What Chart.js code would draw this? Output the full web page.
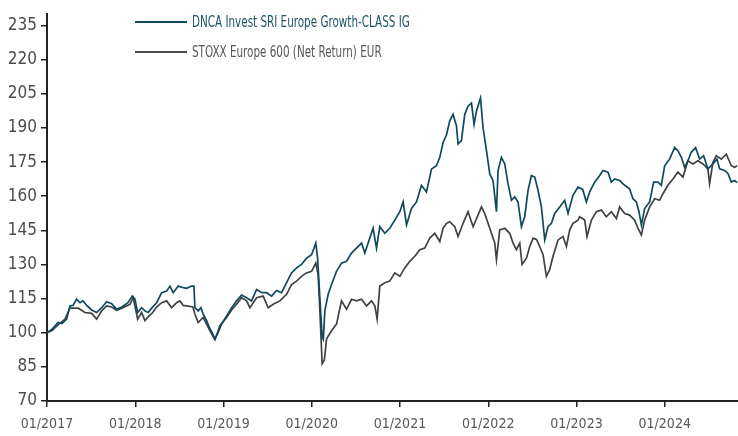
<!DOCTYPE html>
<html>
<head>
<meta charset="utf-8">
<script src="https://cdn.jsdelivr.net/npm/chart.js@4.4.1/dist/chart.umd.min.js"></script>
<style>
    body { margin: 0; background: #fff; }
    #wrap { position: relative; width: 738px; height: 436px; }
    .legend-row { position: absolute; left: 135px; height: 20px; display: flex; align-items: center; white-space: nowrap;
        font-family: 'Liberation Sans Narrow', 'DejaVu Sans Condensed', sans-serif; font-size: 15px; }
    .legend-row .swatch { width: 52px; height: 0; border-top: 2px solid; margin-right: 5px; }
    .legend-row span { display: inline-block; transform: scaleX(0.77); transform-origin: left center; }
</style>
</head>
<body>
<div id="wrap">
    <canvas id="perfChart" width="738" height="436"></canvas>
    <div class="legend-row" style="top: 12px; color: #1d5468;">
        <div class="swatch" style="border-color: #0d4a5e;"></div><span>DNCA Invest SRI Europe Growth-CLASS IG</span>
    </div>
    <div class="legend-row" style="top: 42px; color: #555759;">
        <div class="swatch" style="border-color: #4a4c50;"></div><span>STOXX Europe 600 (Net Return) EUR</span>
    </div>
</div>
<script>
// dates en années décimales, valeurs base 100 au 01/2017
const fundDates = [
    2017.000, 2017.057, 2017.125, 2017.170, 2017.223, 2017.260, 2017.294, 2017.336, 2017.374, 2017.408,
    2017.450, 2017.506, 2017.563, 2017.619, 2017.676, 2017.733, 2017.789, 2017.849, 2017.917, 2017.966,
    2017.997, 2018.027, 2018.072, 2018.110, 2018.147, 2018.186, 2018.242, 2018.299, 2018.356, 2018.393,
    2018.430, 2018.487, 2018.544, 2018.582, 2018.639, 2018.665, 2018.676, 2018.713, 2018.744, 2018.770,
    2018.809, 2018.838, 2018.869, 2018.903, 2018.940, 2018.978, 2019.035, 2019.092, 2019.148, 2019.205,
    2019.262, 2019.318, 2019.375, 2019.431, 2019.488, 2019.545, 2019.601, 2019.658, 2019.715, 2019.771,
    2019.828, 2019.884, 2019.941, 2019.998, 2020.046, 2020.066, 2020.092, 2020.118, 2020.131, 2020.148,
    2020.186, 2020.224, 2020.281, 2020.337, 2020.394, 2020.451, 2020.507, 2020.564, 2020.601, 2020.658,
    2020.695, 2020.734, 2020.771, 2020.828, 2020.884, 2020.941, 2020.998, 2021.035, 2021.074, 2021.130,
    2021.187, 2021.243, 2021.300, 2021.357, 2021.413, 2021.451, 2021.488, 2021.527, 2021.564, 2021.601,
    2021.640, 2021.658, 2021.696, 2021.734, 2021.771, 2021.810, 2021.839, 2021.866, 2021.912, 2021.941,
    2021.980, 2022.017, 2022.054, 2022.093, 2022.111, 2022.149, 2022.187, 2022.224, 2022.263, 2022.300,
    2022.337, 2022.376, 2022.413, 2022.451, 2022.489, 2022.527, 2022.564, 2022.602, 2022.640, 2022.677,
    2022.716, 2022.753, 2022.810, 2022.866, 2022.904, 2022.960, 2023.017, 2023.070, 2023.112, 2023.149,
    2023.206, 2023.263, 2023.300, 2023.357, 2023.395, 2023.433, 2023.489, 2023.546, 2023.602, 2023.640,
    2023.678, 2023.708, 2023.735, 2023.772, 2023.829, 2023.874, 2023.923, 2023.961, 2023.999, 2024.055,
    2024.112, 2024.149, 2024.188, 2024.225, 2024.263, 2024.301, 2024.350, 2024.395, 2024.440, 2024.489,
    2024.546, 2024.591, 2024.622, 2024.678, 2024.716, 2024.754, 2024.792, 2024.820
];
const fundValues = [
    100.0, 101.5, 104.5, 104.0, 106.0, 111.8, 112.0, 114.8, 113.2, 114.0,
    112.0, 110.0, 108.9, 111.0, 113.6, 112.8, 110.3, 111.3, 113.2, 116.1,
    114.8, 108.9, 111.0, 109.6, 108.9, 110.8, 113.2, 117.6, 118.3, 120.5,
    117.6, 120.5, 119.8, 119.5, 120.5, 120.5, 111.0, 109.6, 111.0, 108.2,
    105.3, 102.4, 100.2, 97.3, 100.2, 103.8, 107.4, 111.0, 114.0, 116.6,
    115.4, 114.0, 119.0, 117.6, 117.6, 116.1, 118.6, 117.6, 122.0, 126.3,
    128.5, 130.0, 132.8, 134.3, 139.4, 132.8, 115.4, 98.0, 97.0, 109.6,
    116.9, 121.2, 127.0, 130.6, 131.4, 135.0, 137.2, 139.4, 135.0, 141.6,
    145.9, 137.2, 146.6, 143.7, 145.9, 149.5, 153.2, 157.5, 147.4, 154.6,
    157.5, 164.8, 161.9, 172.0, 173.4, 177.1, 183.6, 187.0, 193.1, 196.0,
    190.9, 183.0, 184.4, 196.0, 199.6, 201.0, 191.6, 197.4, 203.2, 190.2,
    180.0, 169.8, 166.9, 153.2, 171.3, 177.1, 174.2, 165.5, 158.2, 159.7,
    157.5, 146.6, 151.0, 162.6, 169.1, 168.4, 162.6, 155.3, 140.8, 146.6,
    148.1, 152.4, 155.3, 158.2, 152.4, 160.4, 164.0, 163.0, 157.5, 161.9,
    166.2, 169.1, 171.3, 170.6, 166.2, 167.6, 166.9, 164.8, 163.3, 158.9,
    157.5, 153.2, 147.4, 154.6, 157.5, 166.2, 166.2, 164.8, 173.4, 176.3,
    181.4, 180.0, 177.1, 172.7, 175.6, 179.3, 181.4, 176.3, 177.8, 172.0,
    174.2, 176.3, 172.0, 171.3, 170.0, 166.2, 166.9, 166.0
];

const indexDates = [
    2017.000, 2017.057, 2017.125, 2017.204, 2017.260, 2017.354, 2017.430, 2017.506, 2017.563, 2017.619,
    2017.676, 2017.733, 2017.789, 2017.849, 2017.940, 2017.977, 2018.027, 2018.072, 2018.110, 2018.155,
    2018.189, 2018.242, 2018.299, 2018.356, 2018.412, 2018.469, 2018.506, 2018.544, 2018.582, 2018.653,
    2018.676, 2018.713, 2018.770, 2018.827, 2018.865, 2018.903, 2018.959, 2019.035, 2019.092, 2019.148,
    2019.205, 2019.262, 2019.299, 2019.375, 2019.450, 2019.506, 2019.563, 2019.639, 2019.715, 2019.771,
    2019.828, 2019.884, 2019.941, 2019.998, 2020.046, 2020.072, 2020.092, 2020.118, 2020.143, 2020.168,
    2020.224, 2020.281, 2020.337, 2020.394, 2020.451, 2020.507, 2020.564, 2020.621, 2020.677, 2020.715,
    2020.741, 2020.771, 2020.828, 2020.884, 2020.941, 2020.998, 2021.054, 2021.111, 2021.168, 2021.224,
    2021.281, 2021.337, 2021.394, 2021.451, 2021.488, 2021.527, 2021.564, 2021.621, 2021.658, 2021.715,
    2021.771, 2021.828, 2021.884, 2021.923, 2021.960, 2021.998, 2022.036, 2022.074, 2022.093, 2022.130,
    2022.187, 2022.243, 2022.281, 2022.319, 2022.357, 2022.383, 2022.433, 2022.470, 2022.508, 2022.546,
    2022.583, 2022.621, 2022.659, 2022.696, 2022.734, 2022.791, 2022.847, 2022.886, 2022.923, 2022.960,
    2023.017, 2023.036, 2023.093, 2023.119, 2023.169, 2023.225, 2023.282, 2023.338, 2023.395, 2023.452,
    2023.489, 2023.546, 2023.602, 2023.659, 2023.697, 2023.735, 2023.772, 2023.829, 2023.886, 2023.942,
    2023.980, 2024.036, 2024.093, 2024.149, 2024.206, 2024.263, 2024.319, 2024.376, 2024.433, 2024.489,
    2024.508, 2024.546, 2024.584, 2024.641, 2024.698, 2024.754, 2024.792, 2024.820
];
const indexValues = [
    100.0, 101.0, 103.5, 106.0, 110.8, 110.8, 108.9, 108.5, 106.0, 109.6,
    111.8, 111.3, 109.9, 110.8, 112.5, 115.4, 106.0, 108.9, 105.3, 107.4,
    108.5, 111.3, 113.2, 114.0, 111.0, 113.2, 114.0, 112.0, 111.8, 111.3,
    108.2, 104.5, 106.7, 102.4, 99.5, 96.9, 103.1, 106.7, 110.0, 112.5,
    115.4, 114.0, 111.0, 115.4, 116.1, 111.0, 112.5, 114.0, 116.9, 121.2,
    122.7, 124.8, 126.3, 127.0, 130.6, 125.6, 109.6, 86.4, 88.0, 97.3,
    100.9, 103.8, 114.0, 110.3, 114.7, 114.0, 114.7, 111.8, 114.0, 111.8,
    106.0, 120.5, 122.0, 122.7, 126.3, 124.8, 128.5, 131.4, 133.6, 136.5,
    137.2, 141.6, 143.7, 140.1, 145.9, 148.1, 148.8, 146.6, 142.3, 148.1,
    153.2, 146.6, 151.7, 155.3, 152.4, 148.1, 143.7, 139.4, 132.1, 145.2,
    145.9, 143.7, 139.4, 136.5, 139.4, 130.0, 132.8, 137.9, 141.6, 141.0,
    137.9, 134.3, 124.8, 127.7, 133.6, 140.8, 142.3, 137.9, 145.2, 148.1,
    149.5, 151.0, 149.5, 142.3, 149.5, 153.2, 153.9, 151.0, 153.2, 150.2,
    155.3, 152.4, 151.7, 149.5, 145.9, 143.0, 149.5, 155.3, 158.9, 158.2,
    161.1, 164.8, 167.6, 170.6, 168.4, 175.6, 174.2, 175.6, 174.2, 172.0,
    165.5, 174.9, 177.8, 176.3, 178.5, 173.4, 172.7, 173.4
];

const yTicks = [70, 85, 100, 115, 130, 145, 160, 175, 190, 205, 220, 235];
const xTicks = [2017, 2018, 2019, 2020, 2021, 2022, 2023, 2024];

const fundName = 'DNCA Invest SRI Europe Growth-CLASS IG';
const indexName = 'STOXX Europe 600 (Net Return) EUR';

const fontFamily = "'Liberation Sans Narrow', 'DejaVu Sans Condensed', sans-serif";

function toPoints(dates, values) {
    return dates.map((d, i) => ({ x: d, y: values[i] }));
}

const ctx = document.getElementById('perfChart').getContext('2d');
new Chart(ctx, {
    type: 'line',
    data: {
        datasets: [{
            label: fundName,
            data: toPoints(fundDates, fundValues),
            borderColor: '#0d4a5e',
            borderWidth: 1.7,
            pointRadius: 0,
            tension: 0
        }, {
            label: indexName,
            data: toPoints(indexDates, indexValues),
            borderColor: '#3f4145',
            borderWidth: 1.7,
            pointRadius: 0,
            tension: 0
        }]
    },
    options: {
        responsive: false,
        animation: false,
        devicePixelRatio: 1,
        layout: { padding: { top: 10, right: 0, left: 0, bottom: 0 } },
        plugins: {
            legend: { display: false },
            tooltip: { enabled: false }
        },
        scales: {
            x: {
                type: 'linear',
                min: 2017,
                max: 2024.83,
                afterBuildTicks: scale => { scale.ticks = xTicks.map(v => ({ value: v })); },
                afterFit: scale => { scale.height = 35; },
                grid: { drawOnChartArea: false, drawTicks: true, tickLength: 6, color: '#222', lineWidth: 1.5 },
                border: { display: true, color: '#222', width: 2 },
                ticks: {
                    padding: 9,
                    color: '#555759',
                    maxRotation: 0,
                    font: { family: fontFamily, size: 14 },
                    callback: v => '01/' + v
                }
            },
            y: {
                min: 70,
                max: 240,
                afterBuildTicks: scale => { scale.ticks = yTicks.map(v => ({ value: v })); },
                afterFit: scale => { scale.width = 47; },
                grid: { drawOnChartArea: false, drawTicks: true, tickLength: 6, color: '#222', lineWidth: 1.5 },
                border: { display: true, color: '#222', width: 2 },
                ticks: {
                    padding: 4,
                    color: '#4a4c4f',
                    font: { family: fontFamily, size: 17 }
                }
            }
        }
    }
});
</script>
</body>
</html>
